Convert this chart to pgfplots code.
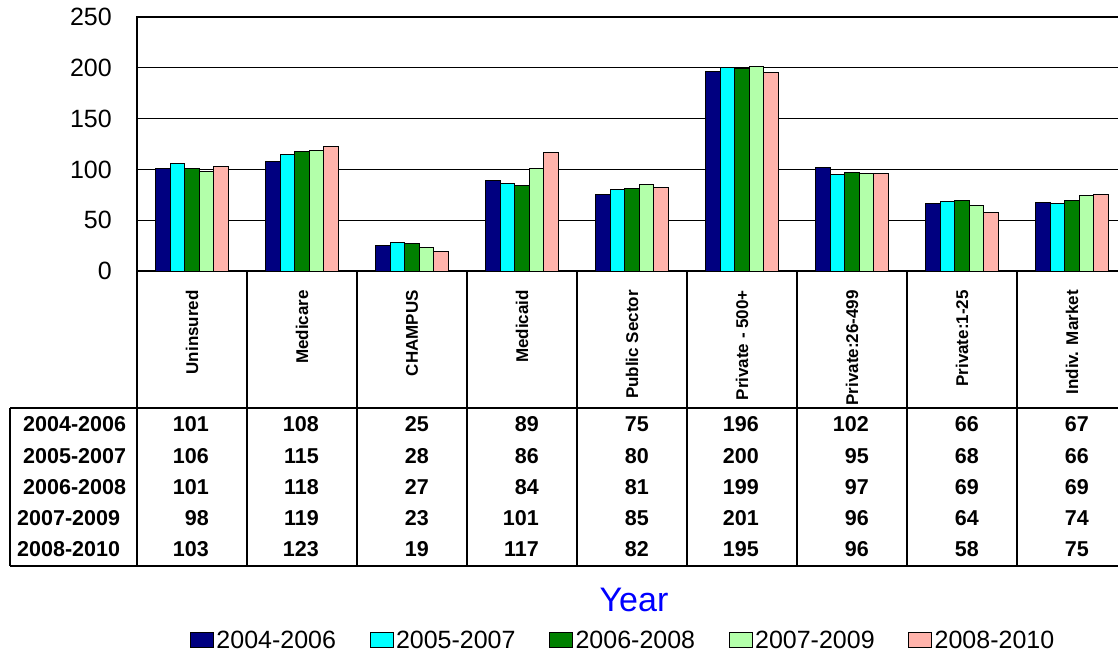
\documentclass[border=0pt]{standalone}
\usepackage{fontspec}
\setmainfont{Liberation Sans}
\usepackage{pgfplots}
\usepackage{pgfplotstable}
\pgfplotsset{compat=1.18}

\definecolor{c1}{RGB}{0,0,128}
\definecolor{c2}{RGB}{0,255,255}
\definecolor{c3}{RGB}{0,128,0}
\definecolor{c4}{RGB}{179,255,170}
\definecolor{c5}{RGB}{255,179,171}

% rate per 1,000 by coverage type, three-year averages
\pgfplotstableread{
x a b c d e
0 101 106 101 98 103
1 108 115 118 119 123
2 25 28 27 23 19
3 89 86 84 101 117
4 75 80 81 85 82
5 196 200 199 201 195
6 102 95 97 96 96
7 66 68 69 64 58
8 67 66 69 74 75
}\cov

\newcommand\fsz[1]{\fontsize{#1pt}{#1pt}\selectfont}

\begin{document}
\begin{tikzpicture}[x=1pt,y=1pt]
\begin{axis}[
  scale only axis, width=990pt, height=254pt,
  at={(137pt,-271pt)}, anchor=south west,
  xmin=-0.5, xmax=8.5, ymin=0, ymax=250,
  ytick={0,50,...,250}, xtick={0,...,8},
  xticklabels={Uninsured, Medicare, CHAMPUS, Medicaid, Public Sector, Private - 500+, Private:26-499, Private:1-25, Indiv. Market},
  xticklabel style={rotate=90, anchor=east, inner sep=0pt, font=\bfseries\fsz{17}},
  xticklabel shift=19pt,
  yticklabel style={anchor=east, inner sep=0pt, font=\fsz{25}},
  yticklabel shift=25pt,
  /pgf/number format/assume math mode=true,
  major tick length=0pt,
  ymajorgrids, grid style={black, line width=1.2pt},
  axis line style={black, line width=1.2pt},
  clip=false,
  xlabel={Year},
  xlabel style={at={(axis description cs:0.502,-1.295)}, anchor=center, text=blue, font=\fsz{34}},
  legend columns=5,
  legend style={draw=none, fill=none, at={(axis description cs:0.0535,-1.4528)}, anchor=west,
    inner sep=0pt, outer sep=0pt, font=\fsz{25}, nodes={inner sep=2.5pt},
    /tikz/every even column/.append style={column sep=31pt}},
  bars/.style={ybar, bar width=14.6pt, draw=black, line width=1pt,
    legend image code/.code={\draw[##1, draw=black, line width=1pt] (0pt,-7.5pt) rectangle (23pt,7.5pt);}},
  vals/.style={draw=none, no marks, forget plot, nodes near coords, point meta=explicit,
    every node near coord/.append style={anchor=east, inner sep=0pt, xshift=17pt, text=black, font=\bfseries\fsz{21.5}}},
]
\addplot[bars, fill=c1, bar shift=-29.2pt] table[x=x, y=a]{\cov};
\addplot[bars, fill=c2, bar shift=-14.6pt] table[x=x, y=b]{\cov};
\addplot[bars, fill=c3, bar shift=0pt] table[x=x, y=c]{\cov};
\addplot[bars, fill=c4, bar shift=14.6pt] table[x=x, y=d]{\cov};
\addplot[bars, fill=c5, bar shift=29.2pt] table[x=x, y=e]{\cov};
\legend{2004-2006, 2005-2007, 2006-2008, 2007-2009, 2008-2010}

% data table rows below the chart
\addplot[vals] table[x=x, y expr=-150.6, meta=a]{\cov};
\addplot[vals] table[x=x, y expr=-182.1, meta=b]{\cov};
\addplot[vals] table[x=x, y expr=-212.6, meta=c]{\cov};
\addplot[vals] table[x=x, y expr=-243.1, meta=d]{\cov};
\addplot[vals] table[x=x, y expr=-273.6, meta=e]{\cov};
\end{axis}

% table grid
\begin{scope}[line width=1.5pt, black]
  \foreach \k in {0,...,9} {\draw (137+110*\k,-271) -- (137+110*\k,-566);}
  \draw (10,-408) -- (1127,-408);
  \draw (10,-566) -- (1127,-566);
  \draw (10,-408) -- (10,-566);
\end{scope}
\begin{scope}[every node/.style={anchor=west, inner sep=0pt, font=\bfseries\fsz{21.5}}]
  \node at (23,-424) {2004-2006};
  \node at (23,-456) {2005-2007};
  \node at (23,-487) {2006-2008};
  \node at (17,-518) {2007-2009};
  \node at (17,-549) {2008-2010};
\end{scope}

\pgfresetboundingbox
\useasboundingbox (0,0) rectangle (1118,-657);
\end{tikzpicture}
\end{document}
